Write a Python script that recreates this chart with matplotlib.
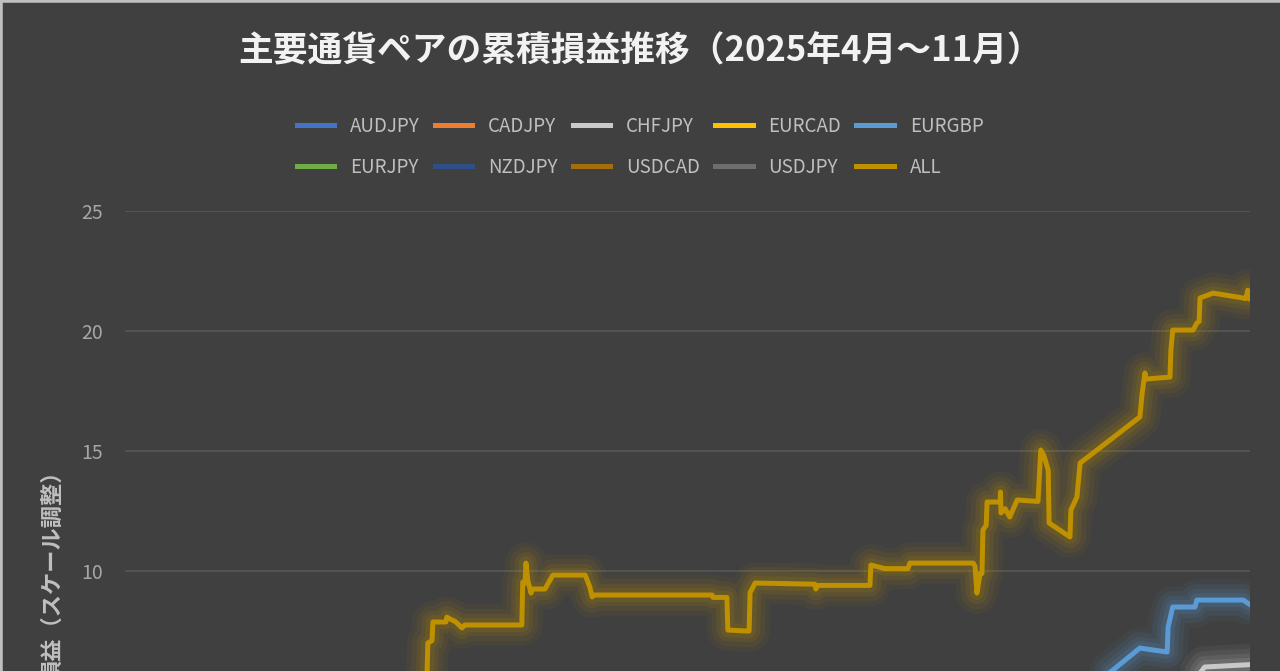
import matplotlib
matplotlib.use("Agg")
import matplotlib.pyplot as plt
from matplotlib.lines import Line2D

#---------------------------------------------------------------------------------------------------------------------------
# Data : cumulative P/L (scaled), x = days since 2025-04-01

pairs = ["AUDJPY", "CADJPY", "CHFJPY", "EURCAD", "EURGBP",
         "EURJPY", "NZDJPY", "USDCAD", "USDJPY", "ALL"]
colors = ["#4472C4", "#ED7D31", "#C9C9C9", "#FFC000", "#5B9BD5",
          "#70AD47", "#2F4F86", "#A36F0D", "#6E6E6E", "#BF9000"]

all_days = [0, 15, 30, 45, 55, 65.2, 65.4, 66.3, 66.5, 69.3, 69.5, 70.2, 71.3, 72.8, 73.4,
            85.7, 85.9, 86.4, 86.6, 87.0, 87.7, 87.9, 90.7, 92.4, 99.4, 100.4, 100.9, 101.1,
            126.8, 127.0, 130.0, 130.2, 134.3, 134.8, 135.0, 136.1, 149.0, 149.2, 149.7,
            160.9, 161.1, 164.1, 169.1, 169.5, 183.2, 183.6, 184.0, 184.7, 185.1, 185.3,
            186.0, 186.2, 189.0, 189.1, 189.2, 190.1, 191.1, 192.7, 197.2, 197.8, 198.5,
            199.4, 199.6, 204.1, 204.3, 205.6, 206.3, 219.2, 219.7, 220.3, 220.5, 225.7,
            225.9, 226.3, 230.7, 231.5, 232.0, 232.2, 235.0, 240.8, 242.1, 242.5, 243.0]
all_vals = [0.0, 1.2, 2.0, 3.4, 4.2, 5.5, 7.0, 7.1, 7.875, 7.875, 8.08, 8.0, 7.9, 7.63, 7.75,
            7.75, 9.54, 9.5, 10.33, 9.6, 9.08, 9.25, 9.25, 9.83, 9.83, 9.33, 8.92, 9.0,
            9.0, 8.9, 8.9, 7.54, 7.5, 7.5, 9.1, 9.5, 9.45, 9.25, 9.4,
            9.4, 10.25, 10.1, 10.1, 10.33, 10.33, 10.2, 9.08, 9.9, 9.9, 11.71,
            11.9, 12.875, 12.875, 13.29, 12.42, 12.6, 12.25, 12.96, 12.9, 15.04, 14.8,
            14.2, 12.0, 11.42, 12.54, 13.08, 14.5, 16.42, 17.42, 18.25, 18.0, 18.08,
            19.2, 20.04, 20.04, 20.33, 20.4, 21.375, 21.58, 21.4, 21.35, 21.7, 21.35]

eurgbp_days = [0, 60, 120, 180, 200, 210.6, 213.4, 219.2, 225.1, 225.3, 226.3, 231.1,
               231.5, 241.5, 243.0]
eurgbp_vals = [0.0, 1.5, 3.0, 4.5, 5.0, 5.43, 5.875, 6.79, 6.625, 7.67, 8.5, 8.5,
               8.79, 8.79, 8.6]

chfjpy_days = [0, 80, 160, 220, 232.0, 233.2, 243.0]
chfjpy_vals = [0.0, 1.8, 3.5, 5.0, 5.7, 6.0, 6.1]

# pairs staying under the visible area
aud_days, aud_vals = [0, 80, 160, 243], [0.0, 1.0, 1.8, 2.6]
cad_days, cad_vals = [0, 80, 160, 243], [0.0, 0.6, 1.2, 1.9]
eurcad_days, eurcad_vals = [0, 80, 160, 243], [0.0, 1.4, 2.6, 3.8]
eurjpy_days, eurjpy_vals = [0, 80, 160, 243], [0.0, 1.1, 2.3, 3.2]
nzd_days, nzd_vals = [0, 80, 160, 243], [0.0, 0.4, 0.9, 1.4]
usdcad_days, usdcad_vals = [0, 80, 160, 243], [0.0, 1.6, 3.0, 4.4]
usdjpy_days, usdjpy_vals = [0, 80, 160, 243], [0.0, 0.9, 2.0, 2.8]

series = {
    "AUDJPY": (aud_days, aud_vals),
    "CADJPY": (cad_days, cad_vals),
    "CHFJPY": (chfjpy_days, chfjpy_vals),
    "EURCAD": (eurcad_days, eurcad_vals),
    "EURGBP": (eurgbp_days, eurgbp_vals),
    "EURJPY": (eurjpy_days, eurjpy_vals),
    "NZDJPY": (nzd_days, nzd_vals),
    "USDCAD": (usdcad_days, usdcad_vals),
    "USDJPY": (usdjpy_days, usdjpy_vals),
    "ALL": (all_days, all_vals),
}
yticks = [10, 15, 20, 25]   # ticks that fall inside the visible crop

#---------------------------------------------------------------------------------------------------------------------------

bg = "#404040"
plt.rcParams['font.family'] = ['Noto Sans CJK JP', 'DejaVu Sans']

fig = plt.figure(figsize=(12.8, 6.71), dpi=100, facecolor=bg)
# plot area runs past the bottom edge (the picture is a crop of the full chart)
ax = fig.add_axes([0.0977, -0.3875, 0.8789, 1.073])
ax.set_facecolor(bg)

def glow_line(x, y, color, lw=3.6):
    for w, a in [(30, 0.06), (23, 0.08), (16, 0.1), (10, 0.13)]:
        ax.plot(x, y, color=color, lw=w, alpha=a, solid_capstyle='round', solid_joinstyle='round')
    return ax.plot(x, y, color=color, lw=lw, solid_joinstyle='round')[0]

handles = []
for name, col in zip(pairs, colors):
    d, v = series[name]
    h = glow_line(d, v, col)
    h.set_label(name)
    handles.append(h)

ax.set_xlim(0, 243)
ax.set_ylim(-5, 25)
ax.set_yticks(yticks)
ax.grid(axis='y', color='#5A5A5A', lw=1.1)
ax.set_axisbelow(True)
for s in ax.spines.values():
    s.set_visible(False)
ax.tick_params(axis='y', length=0, pad=16, labelsize=14, labelcolor='#A6A6A6')
ax.tick_params(axis='x', length=0, labelbottom=False)
ax.set_ylabel("損益（スケール調整）", fontsize=16, color='#BFBFBF', fontweight='bold', labelpad=12)

fig.text(0.5, 1 - 51/671, "主要通貨ペアの累積損益推移（2025年4月～11月）", ha='center', va='center',
         fontsize=25, fontweight='bold', color='#F2F2F2')

order = [0, 5, 1, 6, 2, 7, 3, 8, 4, 9]
leg = fig.legend([handles[i] for i in order], [pairs[i] for i in order], ncol=5,
                 loc='upper center', bbox_to_anchor=(0.5, 1 - 99/671), frameon=False,
                 fontsize=13.5, labelcolor='#BFBFBF', handlelength=2.0, handletextpad=0.85,
                 columnspacing=0.8, labelspacing=1.05)
for lh in leg.get_lines():
    lh.set_linewidth(3.6)

# light border on the top and left edges
fig.add_artist(Line2D([0, 0], [0, 1], transform=fig.transFigure, color='#C0C0C0', lw=4))
fig.add_artist(Line2D([0, 1], [1, 1], transform=fig.transFigure, color='#C0C0C0', lw=4))

fig.savefig("out.png", dpi=100, facecolor=bg)
